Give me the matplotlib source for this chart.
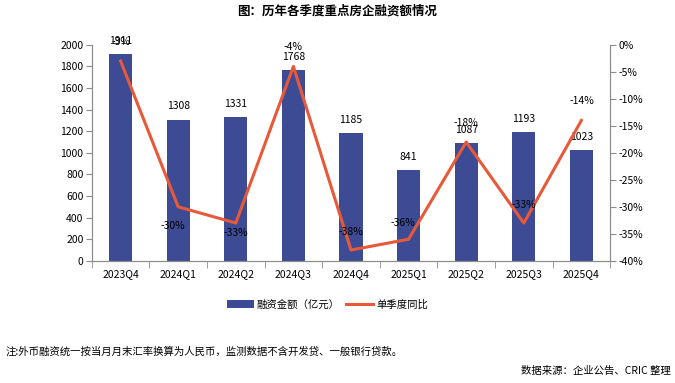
import matplotlib
matplotlib.use("Agg")
import matplotlib.pyplot as plt
import numpy as np

plt.rcParams['font.family'] = ['Noto Sans CJK SC', 'DejaVu Sans']
plt.rcParams['axes.unicode_minus'] = False

quarters = ["2023Q4", "2024Q1", "2024Q2", "2024Q3", "2024Q4",
            "2025Q1", "2025Q2", "2025Q3", "2025Q4"]
amount = [1911, 1308, 1331, 1768, 1185, 841, 1087, 1193, 1023]
yoy = [-3, -30, -33, -4, -38, -36, -18, -33, -14]

bar_color = "#3C4B94"
line_color = "#E8593A"
axis_color = "#8C8C8C"

# label offsets (points) for the yoy labels, as in the source chart
yoy_offsets = [(0, 14), (-4, -14), (0, -7), (0, 14), (0, 13), (-4, 12), (0, 14), (0, 13), (0, 14)]

fig = plt.figure(figsize=(6.75, 3.83), dpi=100)
ax = fig.add_axes([0.136, 0.319, 0.768, 0.564])
ax2 = ax.twinx()

x = np.arange(len(quarters))
bars = ax.bar(x, amount, width=0.4, color=bar_color, label="融资金额（亿元）", zorder=2)
ax.set_ylim(0, 2000)
ax.set_yticks(np.arange(0, 2001, 200))
ax.set_xlim(-0.5, len(quarters) - 0.5)
ax.set_xticks(x)
ax.set_xticklabels(quarters)
ax.set_xticks(np.arange(-0.5, len(quarters), 1), minor=True)
ax.tick_params(axis="x", which="major", length=0, pad=6, labelsize=7.5)
ax.tick_params(axis="x", which="minor", length=5, color=axis_color, direction="out")
ax.tick_params(axis="y", length=4, color=axis_color, labelsize=7.5, pad=2)

for xi, v in zip(x, amount):
    ax.annotate(str(v), (xi, v), xytext=(0, 6), textcoords="offset points",
                ha="center", va="bottom", fontsize=7.5)

line, = ax2.plot(x, yoy, color=line_color, lw=2.2, label="单季度同比", zorder=3)
ax2.set_ylim(-40, 0)
ax2.set_yticks(np.arange(-40, 1, 5))
ax2.set_yticklabels([f"{t}%" for t in range(-40, 1, 5)])
ax2.tick_params(axis="y", length=4, color=axis_color, labelsize=7.5, pad=2)

for xi, v, off in zip(x, yoy, yoy_offsets):
    ax2.annotate(f"{v}%", (xi, v), xytext=off, textcoords="offset points",
                 ha="center", va="center", fontsize=7.5)

for a in (ax, ax2):
    a.spines["top"].set_visible(False)
    for s in ("left", "right", "bottom"):
        a.spines[s].set_color(axis_color)

fig.text(0.5, 0.972, "图：历年各季度重点房企融资额情况", ha="center", va="center",
         fontsize=9, fontweight="bold")

fig.legend(handles=[bars, line], loc="center", bbox_to_anchor=(0.485, 0.205),
           ncol=2, frameon=False, fontsize=7.5, handlelength=2.6,
           columnspacing=0.6, handletextpad=0.3)

fig.text(0.008, 0.081, "注:外币融资统一按当月月末汇率换算为人民币，监测数据不含开发贷、一般银行贷款。",
         ha="left", va="center", fontsize=7.5)
fig.text(0.993, 0.031, "数据来源：企业公告、CRIC 整理", ha="right", va="center", fontsize=7.5)

fig.savefig("out.png", dpi=100)
